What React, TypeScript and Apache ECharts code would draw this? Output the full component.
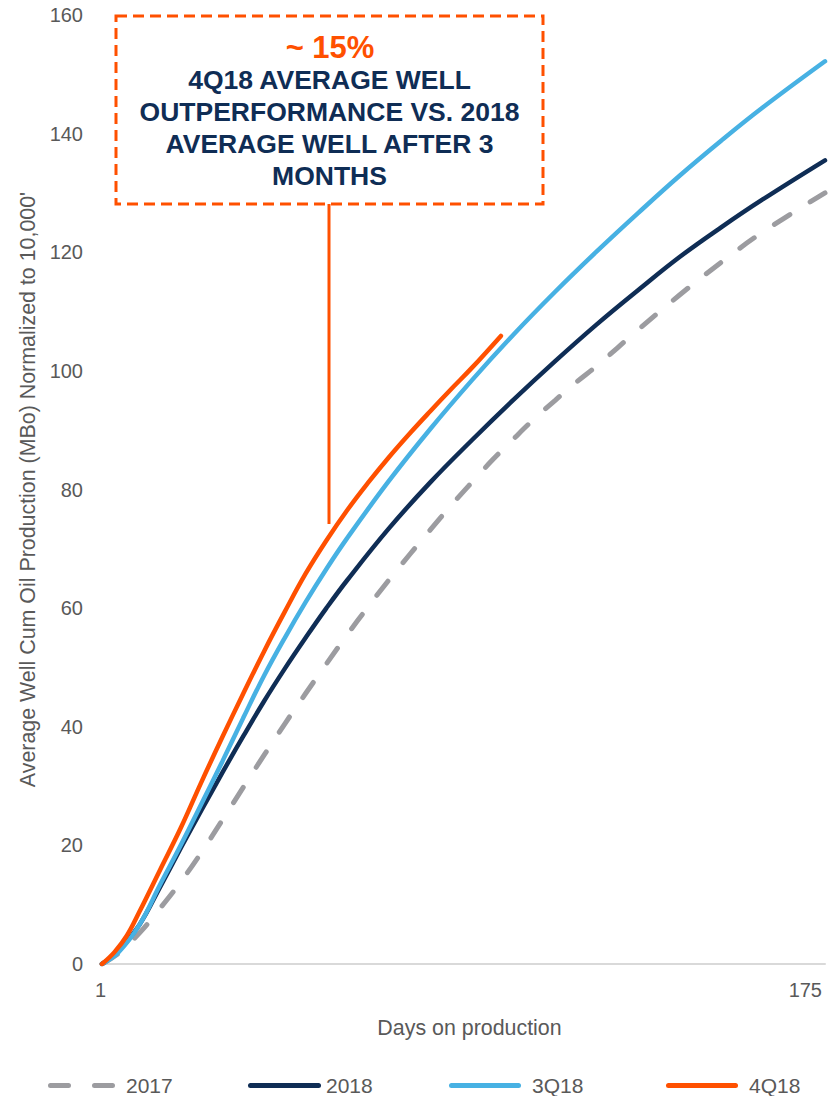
import React, { useEffect, useRef } from "react";
import * as echarts from "echarts";

const seriesNames = ["2017", "2018", "3Q18", "4Q18"];

const days2017 = [1, 5, 10, 15, 20, 25, 30, 35, 40, 45, 50, 55, 60, 65, 70, 75, 80, 85, 90, 95, 100, 105, 110, 115, 120, 130, 140, 150, 160, 175];
const vals2017 = [0, 1.8, 5.2, 9.4, 13.9, 18.9, 24.3, 29.8, 35.2, 40.5, 45.6, 50.6, 55.5, 60.2, 64.7, 69.0, 73.2, 77.3, 81.2, 85.0, 88.5, 91.9, 95.0, 98.0, 100.8, 106.9, 112.8, 118.3, 123.4, 130];

const days2018 = [1, 5, 10, 15, 20, 25, 30, 35, 40, 45, 50, 55, 60, 70, 80, 90, 100, 110, 120, 130, 140, 150, 160, 175];
const vals2018 = [0, 2.2, 6.6, 13.0, 19.6, 26.0, 32.3, 38.4, 44.3, 49.8, 55.0, 60.0, 64.7, 73.4, 81.2, 88.3, 95.1, 101.6, 107.8, 113.6, 119.2, 124.2, 128.9, 135.5];

const days3Q18 = [1, 5, 10, 15, 20, 25, 30, 35, 40, 45, 50, 55, 60, 70, 80, 90, 100, 110, 120, 130, 140, 150, 160, 175];
const vals3Q18 = [0, 2.0, 6.6, 13.4, 20.1, 27.1, 34.2, 41.5, 48.6, 55.0, 61.0, 66.6, 71.8, 81.4, 90.2, 98.4, 106.1, 113.3, 120.1, 126.6, 132.9, 138.8, 144.4, 152.2];

const days4Q18 = [1, 4, 7, 10, 15, 20, 25, 30, 35, 40, 45, 50, 55, 60, 65, 70, 75, 80, 85, 90, 97];
const vals4Q18 = [0, 2.0, 4.8, 8.8, 15.9, 23.0, 30.8, 38.3, 45.6, 52.7, 59.4, 65.8, 71.4, 76.5, 81.1, 85.4, 89.4, 93.2, 96.9, 100.5, 105.9];

const xTickLabels = [1, 175];

const annotationPct = "~ 15%";
const annotationLines = [
  "4Q18 AVERAGE WELL",
  "OUTPERFORMANCE VS. 2018",
  "AVERAGE WELL AFTER 3",
  "MONTHS",
];

const COLORS = {
  gray: "#9C9CA0",
  navy: "#0F2D55",
  blue: "#47B1E3",
  orange: "#FF5000",
  text: "#595959",
  axis: "#D9D9D9",
};

const FONT = "'Liberation Sans', Arial, Helvetica, sans-serif";

function pairs(d: number[], v: number[]) {
  return d.map((x, i) => [x, v[i]]);
}

export default function App() {
  const ref = useRef<HTMLDivElement>(null);

  useEffect(() => {
    document.body.style.margin = "0";
    if (!ref.current) return;
    const chart = echarts.init(ref.current, null, { renderer: "svg" });

    const seriesColors = [COLORS.gray, COLORS.navy, COLORS.blue, COLORS.orange];
    const legendIconX = [[50.5, 112.5], [250.5, 318.5], [451.5, 518.5], [668.5, 735.5]];
    const legendTextX = [126, 326, 532, 749];
    const legendY = 1085.5;

    const legendGraphics: any[] = [];
    seriesNames.forEach((n, i) => {
      legendGraphics.push({
        type: "line",
        shape: { x1: legendIconX[i][0], y1: legendY, x2: legendIconX[i][1], y2: legendY },
        style: {
          stroke: seriesColors[i],
          lineWidth: 5,
          lineCap: "round",
          lineDash: i === 0 ? [18, 26] : null,
        },
      });
      legendGraphics.push({
        type: "text",
        x: legendTextX[i],
        y: legendY,
        style: {
          text: n,
          fill: COLORS.text,
          font: `21px ${FONT}`,
          align: "left",
          verticalAlign: "middle",
        },
      });
    });

    const mkSeries = (name: string, d: number[], v: number[], color: string, dashed: boolean) => ({
      name,
      type: "line",
      data: pairs(d, v),
      smooth: 0.4,
      showSymbol: false,
      symbol: "none",
      lineStyle: dashed
        ? { color, width: 5, type: [18, 24], cap: "round" }
        : { color, width: 4.5, cap: "round" },
      itemStyle: { color },
    });

    const option: any = {
      animation: false,
      backgroundColor: "#ffffff",
      textStyle: { fontFamily: FONT },
      grid: { left: 102, right: 13, top: 15, bottom: 132, containLabel: false },
      xAxis: {
        type: "value",
        min: 1,
        max: 175,
        name: "Days on production",
        nameLocation: "middle",
        nameGap: 53,
        nameTextStyle: { color: COLORS.text, fontSize: 21.4, fontFamily: FONT, padding: [0, 0, 0, 12] },
        axisLine: { show: true, lineStyle: { color: COLORS.axis, width: 2 } },
        axisTick: { show: false },
        splitLine: { show: false },
        axisLabel: {
          customValues: xTickLabels,
          color: COLORS.text,
          fontSize: 20,
          fontFamily: FONT,
          margin: 16,
          alignMaxLabel: "right",
          padding: [0, 3, 0, 0],
        },
      },
      yAxis: {
        type: "value",
        min: 0,
        max: 160,
        interval: 20,
        name: "Average Well Cum Oil Production (MBo) Normalized to 10,000'",
        nameLocation: "middle",
        nameGap: 64,
        nameTextStyle: { color: COLORS.text, fontSize: 21.4, fontFamily: FONT },
        axisLine: { show: false },
        axisTick: { show: false },
        splitLine: { show: false },
        axisLabel: { color: COLORS.text, fontSize: 20, fontFamily: FONT, margin: 19 },
      },
      series: [
        mkSeries("2017", days2017, vals2017, COLORS.gray, true),
        mkSeries("2018", days2018, vals2018, COLORS.navy, false),
        mkSeries("3Q18", days3Q18, vals3Q18, COLORS.blue, false),
        mkSeries("4Q18", days4Q18, vals4Q18, COLORS.orange, false),
      ],
      graphic: [
        {
          type: "line",
          shape: { x1: 329, y1: 204, x2: 329, y2: 524 },
          style: { stroke: COLORS.orange, lineWidth: 3 },
          z: 10,
        },
        {
          type: "rect",
          shape: { x: 116, y: 16, width: 427, height: 188 },
          style: { fill: "#ffffff", stroke: COLORS.orange, lineWidth: 3, lineDash: [11, 6] },
          z: 10,
        },
        {
          type: "text",
          x: 330,
          y: 47,
          style: {
            text: annotationPct,
            fill: COLORS.orange,
            font: `bold 31px ${FONT}`,
            align: "center",
            verticalAlign: "middle",
          },
          z: 11,
        },
        ...annotationLines.map((t, i) => ({
          type: "text",
          x: 329.5,
          y: 80 + i * 32,
          style: {
            text: t,
            fill: COLORS.navy,
            font: `bold 26.5px ${FONT}`,
            align: "center",
            verticalAlign: "middle",
          },
          z: 11,
        })),
        ...legendGraphics,
      ],
    };

    chart.setOption(option);
    return () => chart.dispose();
  }, []);

  return <div ref={ref} style={{ width: 838, height: 1096 }} />;
}
